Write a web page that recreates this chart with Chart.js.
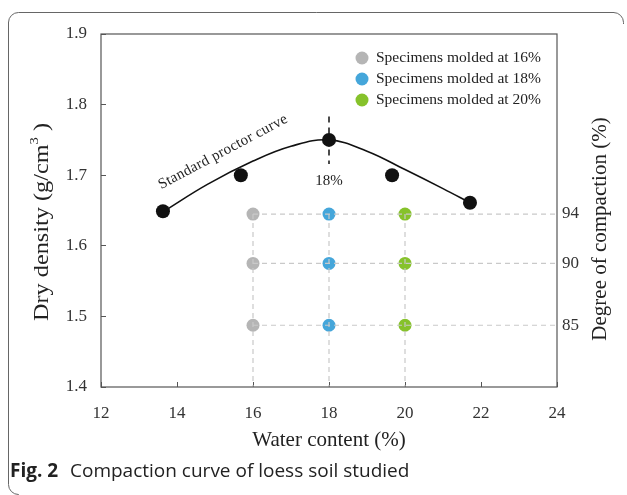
<!DOCTYPE html>
<html>
<head>
<meta charset="utf-8">
<script src="https://cdn.jsdelivr.net/npm/chart.js@4.4.1/dist/chart.umd.min.js"></script>
<style>
  html, body { margin: 0; padding: 0; background: #fff; }
  #wrap { width: 627px; height: 495px; position: relative; }
</style>
</head>
<body>
<div id="wrap"><canvas id="c" width="627" height="495"></canvas></div>
<script>
// Standard proctor test points (water content %, dry density g/cm3)
const proctorMoisture = [13.63, 15.68, 18.0, 19.66, 21.71];
const proctorDensity  = [1.649, 1.700, 1.750, 1.700, 1.661];

// Fitted compaction curve, sampled along its path
const curveMoisture = [13.63, 14.8, 16.0, 17.0, 18.0, 19.0, 20.0, 21.0, 21.71];
const curveDensity  = [1.648, 1.687, 1.720, 1.741, 1.750, 1.734, 1.708, 1.681, 1.661];

// Optimum water content and maximum dry density
const optimumMoisture = 18;
const maxDryDensity = 1.75;

// Specimen groups: molding water content and target degrees of compaction (%)
const moldedMoisture = [16, 18, 20];
const moldedLabels = ['Specimens molded at 16%', 'Specimens molded at 18%', 'Specimens molded at 20%'];
const moldedColors = ['#b5b5b5', '#45a6da', '#86c22b'];
const compactionLevels = [94, 90, 85];

// Axis ticks
const xTicks = [12, 14, 16, 18, 20, 22, 24];
const yTicks = [1.4, 1.5, 1.6, 1.7, 1.8, 1.9];

const SERIF = '"Liberation Serif", "Times New Roman", serif';
const SANS = '"Open Sans", "Noto Sans", sans-serif';
const densityAt = pct => maxDryDensity * pct / 100;

const datasets = [];

// dashed guide lines: horizontal from 16% to the right axis, vertical down to the x axis
compactionLevels.forEach(c => {
  datasets.push({
    data: [{ x: moldedMoisture[0], y: densityAt(c) }, { x: xTicks[xTicks.length - 1], y: densityAt(c) }],
    showLine: true, borderColor: '#c9c9c9', borderWidth: 1.2, borderDash: [5, 4],
    pointRadius: 0, order: 1
  });
});
moldedMoisture.forEach(m => {
  datasets.push({
    data: [{ x: m, y: densityAt(compactionLevels[0]) }, { x: m, y: yTicks[0] }],
    showLine: true, borderColor: '#c9c9c9', borderWidth: 1.2, borderDash: [5, 4],
    pointRadius: 0, order: 1
  });
});

// specimen points
moldedMoisture.forEach((m, i) => {
  datasets.push({
    label: moldedLabels[i],
    data: compactionLevels.map(c => ({ x: m, y: densityAt(c) })),
    showLine: false, pointRadius: 6.5, pointHoverRadius: 6.5,
    backgroundColor: moldedColors[i], borderColor: moldedColors[i], borderWidth: 0,
    order: 2
  });
});

// proctor points
datasets.push({
  data: proctorMoisture.map((m, i) => ({ x: m, y: proctorDensity[i] })),
  showLine: false, pointRadius: 7, pointHoverRadius: 7,
  backgroundColor: '#111', borderColor: '#111', borderWidth: 0, order: 0
});

// compaction curve
datasets.push({
  data: curveMoisture.map((m, i) => ({ x: m, y: curveDensity[i] })),
  showLine: true, borderColor: '#111', borderWidth: 1.6, tension: 0.4,
  pointRadius: 0, order: 3
});

// optimum water content marker
datasets.push({
  data: [{ x: optimumMoisture, y: 1.783 }, { x: optimumMoisture, y: 1.716 }],
  showLine: true, borderColor: '#111', borderWidth: 1.5, borderDash: [6, 5],
  pointRadius: 0, order: 4
});

// draw text spread to a given length along its baseline
function spreadText(ctx, text, cx, cy, length) {
  ctx.letterSpacing = '0px';
  const w = ctx.measureText(text).width;
  const sp = Math.max(0, (length - w) / (text.length - 1));
  ctx.letterSpacing = sp + 'px';
  ctx.textAlign = 'left';
  ctx.fillText(text, cx - length / 2, cy);
  ctx.letterSpacing = '0px';
}

const figurePlugin = {
  id: 'figureText',
  afterDraw(chart) {
    const ctx = chart.ctx;
    const a = chart.chartArea;
    const xs = chart.scales.x;
    ctx.save();

    // plot box
    ctx.strokeStyle = '#555';
    ctx.lineWidth = 1.2;
    ctx.strokeRect(a.left, a.top, a.right - a.left, a.bottom - a.top);

    // outer frame
    ctx.strokeStyle = '#666';
    ctx.lineWidth = 1;
    ctx.beginPath();
    ctx.moveTo(18, 494.5);
    ctx.arcTo(8.5, 494.5, 8.5, 484, 10);
    ctx.lineTo(8.5, 22);
    ctx.arcTo(8.5, 12.5, 18, 12.5, 10);
    ctx.lineTo(614, 12.5);
    ctx.arcTo(623.5, 12.5, 623.5, 22, 10);
    ctx.lineTo(623.5, 24);
    ctx.stroke();

    ctx.fillStyle = '#222';
    ctx.textAlign = 'center';
    ctx.textBaseline = 'middle';

    // axis titles
    ctx.font = '21px ' + SERIF;
    ctx.fillText('Water content (%)', (a.left + a.right) / 2, 440);

    // left title with superscript
    ctx.save();
    ctx.translate(43, 222);
    ctx.rotate(-Math.PI / 2);
    const p1 = 'Dry density (g/cm', p2 = '3', p3 = ' )';
    ctx.font = '20px ' + SERIF;
    const w1 = ctx.measureText(p1).width, w3 = ctx.measureText(p3).width;
    ctx.font = '12px ' + SERIF;
    const w2 = ctx.measureText(p2).width;
    const total = w1 + w2 + w3;
    const sc = 198 / total;
    ctx.scale(sc, 1);
    ctx.textAlign = 'left';
    let x0 = -total / 2;
    ctx.font = '20px ' + SERIF;
    ctx.fillText(p1, x0, 0);
    ctx.font = '12px ' + SERIF;
    ctx.fillText(p2, x0 + w1, -8);
    ctx.font = '20px ' + SERIF;
    ctx.fillText(p3, x0 + w1 + w2, 0);
    ctx.restore();

    ctx.save();
    ctx.translate(600, 229);
    ctx.rotate(-Math.PI / 2);
    ctx.font = '21px ' + SERIF;
    ctx.textAlign = 'center';
    ctx.fillText('Degree of compaction (%)', 0, 0);
    ctx.restore();

    // curve annotations
    ctx.textAlign = 'center';
    ctx.font = '15px ' + SERIF;
    ctx.fillText(optimumMoisture + '%', xs.getPixelForValue(optimumMoisture), 181);
    ctx.save();
    ctx.translate(223, 152);
    ctx.rotate(-28 * Math.PI / 180);
    spreadText(ctx, 'Standard proctor curve', 0, 0, 144);
    ctx.restore();

    // legend
    ctx.textAlign = 'left';
    ctx.font = '15.5px ' + SERIF;
    moldedLabels.forEach((lab, i) => {
      const y = 58 + i * 21;
      ctx.fillStyle = moldedColors[i];
      ctx.beginPath();
      ctx.arc(362, y, 6.5, 0, Math.PI * 2);
      ctx.fill();
      ctx.fillStyle = '#222';
      ctx.fillText(lab, 376, y);
    });

    // caption
    ctx.textBaseline = 'alphabetic';
    ctx.fillStyle = '#222';
    ctx.font = 'bold 19px ' + SANS;
    ctx.fillText('Fig. 2', 10, 477);
    ctx.font = '19px ' + SANS;
    ctx.fillText('Compaction curve of loess soil studied', 70, 477);

    ctx.restore();
  }
};

new Chart(document.getElementById('c'), {
  type: 'scatter',
  data: { datasets },
  options: {
    responsive: false,
    animation: false,
    events: [],
    layout: { padding: { top: 34, left: 0, right: 0, bottom: 0 } },
    plugins: { legend: { display: false }, tooltip: { enabled: false } },
    scales: {
      x: {
        type: 'linear', position: 'bottom',
        min: xTicks[0], max: xTicks[xTicks.length - 1],
        afterBuildTicks: s => { s.ticks = xTicks.map(v => ({ value: v })); },
        afterFit: s => { s.height = 108; },
        grid: { drawOnChartArea: false, tickLength: -5, color: '#555', lineWidth: 1 },
        border: { display: false },
        ticks: { padding: 21, color: '#333', font: { family: SERIF, size: 17 }, maxRotation: 0 }
      },
      y: {
        type: 'linear', position: 'left',
        min: yTicks[0], max: yTicks[yTicks.length - 1],
        afterBuildTicks: s => { s.ticks = yTicks.map(v => ({ value: v })); },
        afterFit: s => { s.width = 101; },
        grid: { drawOnChartArea: false, tickLength: -5, color: '#555', lineWidth: 1 },
        border: { display: false },
        ticks: { padding: 19, color: '#333', font: { family: SERIF, size: 17 }, callback: v => v.toFixed(1) }
      },
      y2: {
        type: 'linear', position: 'right',
        min: yTicks[0] / maxDryDensity * 100, max: yTicks[yTicks.length - 1] / maxDryDensity * 100,
        afterBuildTicks: s => { s.ticks = compactionLevels.map(v => ({ value: v })); },
        afterFit: s => { s.width = 70; },
        grid: { display: false, drawTicks: false },
        border: { display: false },
        ticks: { padding: 5, color: '#333', font: { family: SERIF, size: 17 } }
      }
    }
  },
  plugins: [figurePlugin]
});
</script>
</body>
</html>
